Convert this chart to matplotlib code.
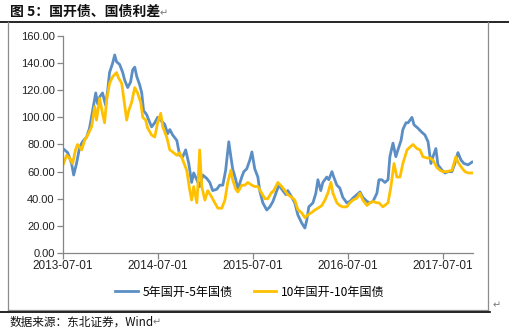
import matplotlib
matplotlib.use('Agg')
import matplotlib.pyplot as plt
import matplotlib.dates as mdates
from matplotlib.lines import Line2D
from matplotlib.ticker import FormatStrFormatter
import pandas as pd

plt.rcParams['font.family'] = ['Liberation Sans', 'Noto Sans CJK SC', 'DejaVu Sans']
cjk = ['Noto Sans CJK SC', 'DejaVu Sans']

title = '图 5：国开债、国债利差'
source = '数据来源：东北证券，Wind'
labels = ['5年国开-5年国债', '10年国开-10年国债']
y_ticks = [0, 20, 40, 60, 80, 100, 120, 140, 160]
x_ticks = ['2013-07-01', '2014-07-01', '2015-07-01', '2016-07-01', '2017-07-01']
x_end = '2017-10-26'

# 5年国开-5年国债 (bp)
dates_5y = ['2013-07-01', '2013-07-19', '2013-08-03', '2013-08-11', '2013-08-22', '2013-09-03',
            '2013-09-14', '2013-09-30', '2013-10-11', '2013-10-23', '2013-11-04', '2013-11-11',
            '2013-11-19', '2013-11-30', '2013-12-12', '2013-12-20', '2013-12-27', '2014-01-08',
            '2014-01-16', '2014-01-23', '2014-02-04', '2014-02-16', '2014-02-23', '2014-03-07',
            '2014-03-18', '2014-03-26', '2014-04-03', '2014-04-11', '2014-04-22', '2014-04-30',
            '2014-05-07', '2014-05-19', '2014-05-27', '2014-06-07', '2014-06-19', '2014-06-30',
            '2014-07-16', '2014-07-27', '2014-08-08', '2014-08-16', '2014-08-27', '2014-09-12',
            '2014-09-23', '2014-10-05', '2014-10-16', '2014-10-28', '2014-11-08', '2014-11-16',
            '2014-11-28', '2014-12-09', '2014-12-21', '2015-01-05', '2015-01-17', '2015-01-28',
            '2015-02-13', '2015-02-24', '2015-03-08', '2015-03-19', '2015-03-31', '2015-04-08',
            '2015-04-15', '2015-04-27', '2015-05-05', '2015-05-20', '2015-05-28', '2015-06-08',
            '2015-06-20', '2015-06-28', '2015-07-09', '2015-07-21', '2015-07-28', '2015-08-09',
            '2015-08-24', '2015-09-05', '2015-09-17', '2015-10-02', '2015-10-10', '2015-10-25',
            '2015-11-06', '2015-11-13', '2015-11-29', '2015-12-10', '2015-12-22', '2016-01-06',
            '2016-01-18', '2016-01-25', '2016-02-02', '2016-02-18', '2016-02-29', '2016-03-08',
            '2016-03-19', '2016-03-27', '2016-04-11', '2016-04-19', '2016-05-01', '2016-05-08',
            '2016-05-20', '2016-05-31', '2016-06-12', '2016-06-27', '2016-07-09', '2016-07-21',
            '2016-08-05', '2016-08-17', '2016-08-28', '2016-09-13', '2016-09-24', '2016-10-06',
            '2016-10-21', '2016-10-29', '2016-11-09', '2016-11-21', '2016-12-03', '2016-12-10',
            '2016-12-22', '2017-01-02', '2017-01-10', '2017-01-22', '2017-01-29', '2017-02-10',
            '2017-02-18', '2017-03-05', '2017-03-13', '2017-03-28', '2017-04-12', '2017-04-24',
            '2017-05-06', '2017-05-17', '2017-05-25', '2017-06-05', '2017-06-13', '2017-06-29',
            '2017-07-10', '2017-07-22', '2017-08-06', '2017-08-17', '2017-08-29', '2017-09-10',
            '2017-09-21', '2017-10-07', '2017-10-22']
spread_5y = [77, 74, 66, 57.5, 66, 78,
             82, 85.5, 92, 105, 118, 110,
             115, 118, 109, 120, 133, 140,
             146, 141, 139, 133, 127.6, 122,
             126, 135, 137, 130, 124, 118,
             105, 102, 98, 93, 96, 100,
             97, 95, 88, 91, 87, 83,
             72, 71, 76, 66, 52, 59,
             54, 49, 57.5, 55, 52, 46,
             47, 50, 50, 61, 82, 71,
             62, 54, 47, 56, 60, 62,
             68.5, 74.5, 62, 56, 46, 37,
             31.7, 34, 38, 46, 50, 46,
             43, 46, 41, 37, 28, 22,
             18.4, 24, 34, 37, 44, 54,
             46, 52, 56, 54, 60, 56,
             50, 48, 41, 37, 38, 40.5,
             43, 45, 41, 38, 37, 38,
             44, 54, 54, 52, 54, 71,
             81, 71, 76, 83, 91, 96,
             96, 100, 94.5, 92, 89, 87,
             82, 66, 71, 77, 65, 61,
             59, 60, 60, 66, 74, 68.5,
             66, 65, 67]

# 10年国开-10年国债 (bp)
dates_10y = ['2013-07-01', '2013-07-15', '2013-07-26', '2013-08-07', '2013-08-18', '2013-08-26',
             '2013-09-11', '2013-09-22', '2013-10-04', '2013-10-19', '2013-10-31', '2013-11-07',
             '2013-11-19', '2013-11-30', '2013-12-08', '2013-12-16', '2013-12-27', '2014-01-08',
             '2014-01-23', '2014-01-31', '2014-02-12', '2014-02-19', '2014-03-03', '2014-03-11',
             '2014-03-22', '2014-04-03', '2014-04-14', '2014-04-26', '2014-05-04', '2014-05-15',
             '2014-05-23', '2014-06-07', '2014-06-19', '2014-06-30', '2014-07-12', '2014-07-20',
             '2014-08-04', '2014-08-16', '2014-08-27', '2014-09-12', '2014-09-23', '2014-10-05',
             '2014-10-20', '2014-11-01', '2014-11-08', '2014-11-16', '2014-11-28', '2014-12-02',
             '2014-12-09', '2014-12-17', '2014-12-29', '2015-01-09', '2015-01-25', '2015-02-05',
             '2015-02-17', '2015-03-04', '2015-03-16', '2015-03-27', '2015-04-08', '2015-04-15',
             '2015-04-27', '2015-05-05', '2015-05-20', '2015-06-01', '2015-06-12', '2015-06-28',
             '2015-07-09', '2015-07-21', '2015-08-05', '2015-08-17', '2015-08-28', '2015-09-13',
             '2015-09-17', '2015-10-06', '2015-10-21', '2015-11-02', '2015-11-13', '2015-11-29',
             '2015-12-10', '2015-12-22', '2016-01-06', '2016-01-18', '2016-01-29', '2016-02-14',
             '2016-02-25', '2016-03-08', '2016-03-23', '2016-04-04', '2016-04-15', '2016-04-27',
             '2016-05-05', '2016-05-20', '2016-05-31', '2016-06-12', '2016-06-27', '2016-07-09',
             '2016-07-21', '2016-08-05', '2016-08-17', '2016-08-28', '2016-09-13', '2016-09-24',
             '2016-10-06', '2016-10-21', '2016-10-29', '2016-11-13', '2016-12-03', '2016-12-14',
             '2016-12-26', '2017-01-06', '2017-01-18', '2017-01-29', '2017-02-14', '2017-02-25',
             '2017-03-09', '2017-03-24', '2017-04-05', '2017-04-16', '2017-05-02', '2017-05-13',
             '2017-05-25', '2017-06-09', '2017-06-21', '2017-07-02', '2017-07-18', '2017-08-06',
             '2017-08-21', '2017-08-29', '2017-09-14', '2017-09-25', '2017-10-07', '2017-10-22']
spread_10y = [65, 72, 70, 66, 76, 80,
              76, 83, 87, 93, 108, 98,
              114, 103, 96, 113, 125, 130,
              133, 129, 125, 115, 98, 105,
              111, 122, 118, 111, 100, 98,
              92, 87, 85.5, 96, 103, 93,
              85.5, 76, 74.5, 72, 74, 68.5,
              61, 46, 39, 49, 37, 49,
              76, 49, 39, 46, 41, 37,
              33, 33, 39, 52, 61, 54,
              47, 45, 50, 50, 52, 50,
              49, 49, 44, 40, 40, 45,
              45, 52, 49, 46, 43, 41,
              39, 32, 29.5, 26, 28, 30,
              31.7, 33, 35, 39, 44, 52,
              44, 37, 35, 34, 34, 37,
              39, 40.5, 44, 39, 35, 37,
              38, 37, 37, 34, 37, 49,
              66, 56, 56, 66, 76, 78,
              80, 77, 76, 71, 70, 70,
              68.5, 63, 61, 60, 60, 61,
              71, 67, 62.5, 60, 59, 59]

fig = plt.figure(figsize=(5.09, 3.32), dpi=100)
ax = fig.add_axes([0.1238, 0.238, 0.8055, 0.6536])

ax.plot(pd.to_datetime(dates_5y), spread_5y, color='#5B8EC4', lw=2.0, label=labels[0])
ax.plot(pd.to_datetime(dates_10y), spread_10y, color='#FFC000', lw=2.0, label=labels[1])

ax.set_ylim(0, 160)
ax.set_yticks(y_ticks)
ax.yaxis.set_major_formatter(FormatStrFormatter('%.2f'))
ax.set_xlim(pd.Timestamp(x_ticks[0]), pd.Timestamp(x_end))
ax.set_xticks(pd.to_datetime(x_ticks))
ax.xaxis.set_major_formatter(mdates.DateFormatter('%Y-%m-%d'))

for s in ['top', 'right']:
    ax.spines[s].set_visible(False)
for s in ['left', 'bottom']:
    ax.spines[s].set_color('#868686')
    ax.spines[s].set_linewidth(0.9)
ax.tick_params(axis='both', colors='#868686', length=4, width=0.9, labelcolor='#222222')
ax.tick_params(axis='y', labelsize=8, pad=2)
ax.tick_params(axis='x', labelsize=8.5, pad=1)

fig.legend(loc='center', bbox_to_anchor=(250 / 509, 1 - 292 / 332), ncol=2, frameon=False,
           prop={'family': cjk, 'size': 8.7}, handlelength=1.9, handletextpad=0.4,
           columnspacing=1.7)

# page decoration: title, rules, chart frame, source
fig.text(10 / 509, 1 - 12 / 332, title, family=cjk, fontsize=10, fontweight='bold',
         va='center', ha='left', color='#111111')
fig.text(160 / 509, 1 - 13 / 332, '↵', family=cjk, fontsize=7, va='center', color='#777777')
fig.add_artist(Line2D([0, 1], [1 - 22 / 332] * 2, color='black', lw=1.2))
fig.add_artist(Line2D([8 / 509] * 2, [1 - 22 / 332, 1 - 310 / 332], color='#8c8c8c', lw=0.9))
fig.add_artist(Line2D([488 / 509] * 2, [1 - 22 / 332, 1 - 310 / 332], color='#8c8c8c', lw=0.9))
fig.add_artist(Line2D([8 / 509, 488 / 509], [1 - 310 / 332] * 2, color='#8c8c8c', lw=0.9))
fig.add_artist(Line2D([0, 490 / 509], [1 - 312 / 332] * 2, color='black', lw=1.2))
fig.text(493 / 509, 1 - 305 / 332, '↵', family=cjk, fontsize=7, va='center', color='#777777')
fig.text(10 / 509, 1 - 322 / 332, source, family=cjk, fontsize=8.4, va='center', ha='left',
         color='#111111')
fig.text(153 / 509, 1 - 322 / 332, '↵', family=cjk, fontsize=7, va='center', color='#777777')

fig.savefig('out.png', dpi=100)
